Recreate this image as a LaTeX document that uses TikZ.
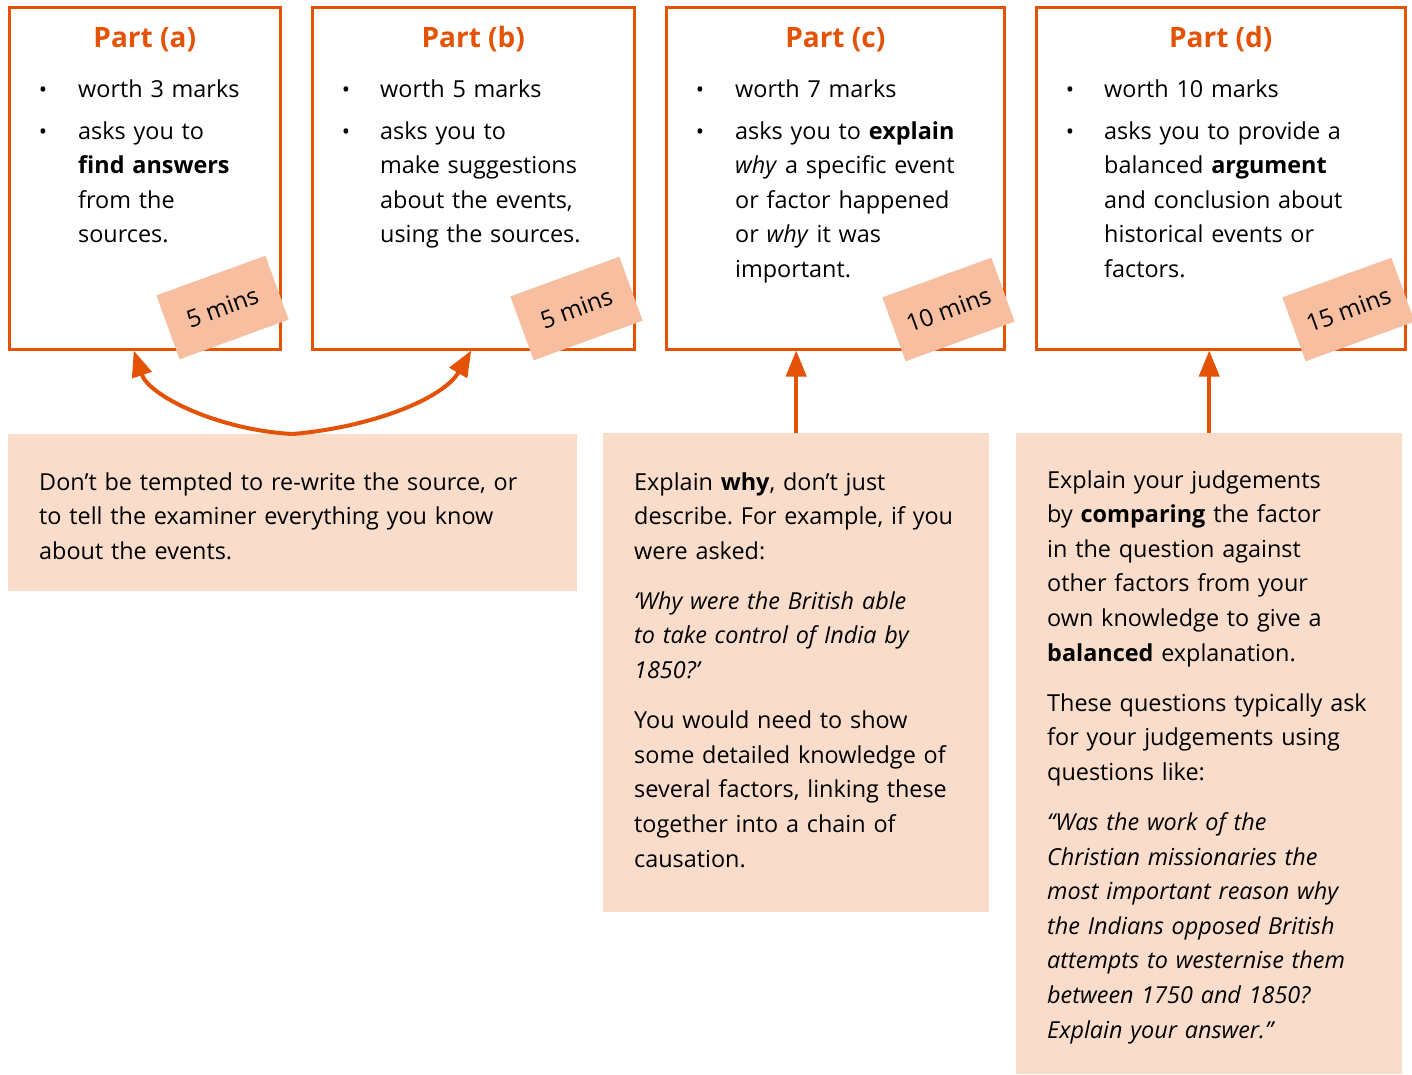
\documentclass[tikz,border=0pt]{standalone}
\usepackage{fontspec}
\setmainfont{Open Sans}
\usetikzlibrary{positioning, calc, arrows.meta}
\tikzset{>=latex}
\definecolor{partorange}{HTML}{E35205}
\definecolor{tagpeach}{HTML}{F7BEA0}
\definecolor{notepeach}{HTML}{FADCCB}
\frenchspacing

\begin{document}
\begin{tikzpicture}
    [
        x=1pt, y=-1pt,
        part_box/.style={draw=partorange, line width=2.5pt, anchor=north west, inner sep=0pt},
        part_title/.style={text=partorange, anchor=base, inner sep=0pt, font=\fontsize{28}{32}\selectfont\bfseries},
        bullet_dot/.style={anchor=base, inner sep=0pt, font=\fontsize{22}{34.5}\selectfont},
        item_text/.style={anchor=base west, inner sep=0pt, align=left, text width=#1, font=\fontsize{23.4}{34.5}\selectfont},
        tag_box/.style={fill=tagpeach, rotate=20, minimum width=116pt, minimum height=68pt, inner sep=0pt, font=\fontsize{24}{28}\selectfont},
        note_box/.style={fill=notepeach, anchor=north west, inner sep=0pt},
        note_text/.style={anchor=base west, inner sep=0pt, align=left, text width=#1, font=\fontsize{23.4}{34.6}\selectfont},
        link_arrow/.style={draw=partorange, line width=4pt, -{Triangle[width=20pt,length=26pt]}},
    ]

  \useasboundingbox (0,0) rectangle (1412,1074);

  % the four parts
  \node[part_box, minimum width=271pt, minimum height=342pt] (boxA) at (8,6) {};
  \node[part_box, minimum width=322pt, minimum height=342pt] (boxB) at (311,6) {};
  \node[part_box, minimum width=338pt, minimum height=342pt] (boxC) at (665,6) {};
  \node[part_box, minimum width=369pt, minimum height=342pt] (boxD) at (1035,6) {};

  \node[part_title] (titleA) at ([yshift=-41pt]boxA.north) {Part (a)};
  \node[part_title] (titleB) at ([yshift=-41pt]boxB.north) {Part (b)};
  \node[part_title] (titleC) at ([yshift=-41pt]boxC.north) {Part (c)};
  \node[part_title] (titleD) at ([yshift=-41pt]boxD.north) {Part (d)};

  \node[bullet_dot] (dotA1) at ([shift={(35,91)}]boxA.north west) {•};
  \node[item_text=200pt] (itemA1) at ([shift={(70,91)}]boxA.north west) {worth 3 marks};
  \node[bullet_dot] (dotA2) at ([shift={(35,133)}]boxA.north west) {•};
  \node[item_text=200pt] (itemA2) at ([shift={(70,133)}]boxA.north west)
    {asks you to\\ \textbf{find answers}\\ from the\\ sources.};

  \node[bullet_dot] (dotB1) at ([shift={(35,91)}]boxB.north west) {•};
  \node[item_text=245pt] (itemB1) at ([shift={(69,91)}]boxB.north west) {worth 5 marks};
  \node[bullet_dot] (dotB2) at ([shift={(35,133)}]boxB.north west) {•};
  \node[item_text=245pt] (itemB2) at ([shift={(69,133)}]boxB.north west)
    {asks you to\\ make suggestions\\ about the events,\\ using the sources.};

  \node[bullet_dot] (dotC1) at ([shift={(35,91)}]boxC.north west) {•};
  \node[item_text=265pt] (itemC1) at ([shift={(70,91)}]boxC.north west) {worth 7 marks};
  \node[bullet_dot] (dotC2) at ([shift={(35,133)}]boxC.north west) {•};
  \node[item_text=265pt] (itemC2) at ([shift={(70,133)}]boxC.north west)
    {asks you to \textbf{explain}\\ \textit{why} a specific event\\ or factor happened\\ or \textit{why} it was\\ important.};

  \node[bullet_dot] (dotD1) at ([shift={(35,91)}]boxD.north west) {•};
  \node[item_text=295pt] (itemD1) at ([shift={(69,91)}]boxD.north west) {worth 10 marks};
  \node[bullet_dot] (dotD2) at ([shift={(35,133)}]boxD.north west) {•};
  \node[item_text=295pt] (itemD2) at ([shift={(69,133)}]boxD.north west)
    {asks you to provide a\\ balanced \textbf{argument}\\ and conclusion about\\ historical events or\\ factors.};

  % time tags
  \node[tag_box] (tagA) at ([shift={(-59,-43)}]boxA.south east) {5 mins};
  \node[tag_box] (tagB) at ([shift={(-59,-42)}]boxB.south east) {5 mins};
  \node[tag_box] (tagC) at ([shift={(-57,-41)}]boxC.south east) {10 mins};
  \node[tag_box] (tagD) at ([shift={(-58,-41)}]boxD.south east) {15 mins};

  % advice notes
  \node[note_box, minimum width=569pt, minimum height=157pt] (note1) at (8,434) {};
  \node[note_box, minimum width=386pt, minimum height=479pt] (note2) at (603,433) {};
  \node[note_box, minimum width=386pt, minimum height=641pt] (note3) at (1016,433) {};

  \node[note_text=530pt] (adviceA) at ([shift={(31,56)}]note1.north west)
    {Don't be tempted to re-write the source, or\\ to tell the examiner everything you know\\ about the events.};
  \node[note_text=350pt] (adviceC) at ([shift={(31,57)}]note2.north west)
    {Explain \textbf{why}, don't just\\ describe. For example, if you\\ were asked:\\[15.5pt]
     {\itshape ‘Why were the British able\\ to take control of India by\\ 1850?’}\\[15.5pt]
     You would need to show\\ some detailed knowledge of\\ several factors, linking these\\ together into a chain of\\ causation.};
  \node[note_text=350pt] (adviceD) at ([shift={(31,55)}]note3.north west)
    {Explain your judgements\\ by \textbf{comparing} the factor\\ in the question against\\ other factors from your\\ own knowledge to give a\\ \textbf{balanced} explanation.\\[15.5pt]
     These questions typically ask\\ for your judgements using\\ questions like:\\[15.5pt]
     {\itshape “Was the work of the\\ Christian missionaries the\\ most important reason why\\ the Indians opposed British\\ attempts to westernise them\\ between 1750 and 1850?\\ Explain your answer.”}};

  \draw[link_arrow] (note1.north) .. controls +(-75,-4) and +(15,45) .. ([xshift=-11pt]boxA.south);
  \draw[link_arrow] (note1.north) .. controls +(80,-7) and +(-28,48) .. ([xshift=-2pt]boxB.south);
  \draw[link_arrow] (note2.north) -- (note2.north |- boxC.south);
  \draw[link_arrow] (note3.north) -- (note3.north |- boxD.south);
\end{tikzpicture}
\end{document}
